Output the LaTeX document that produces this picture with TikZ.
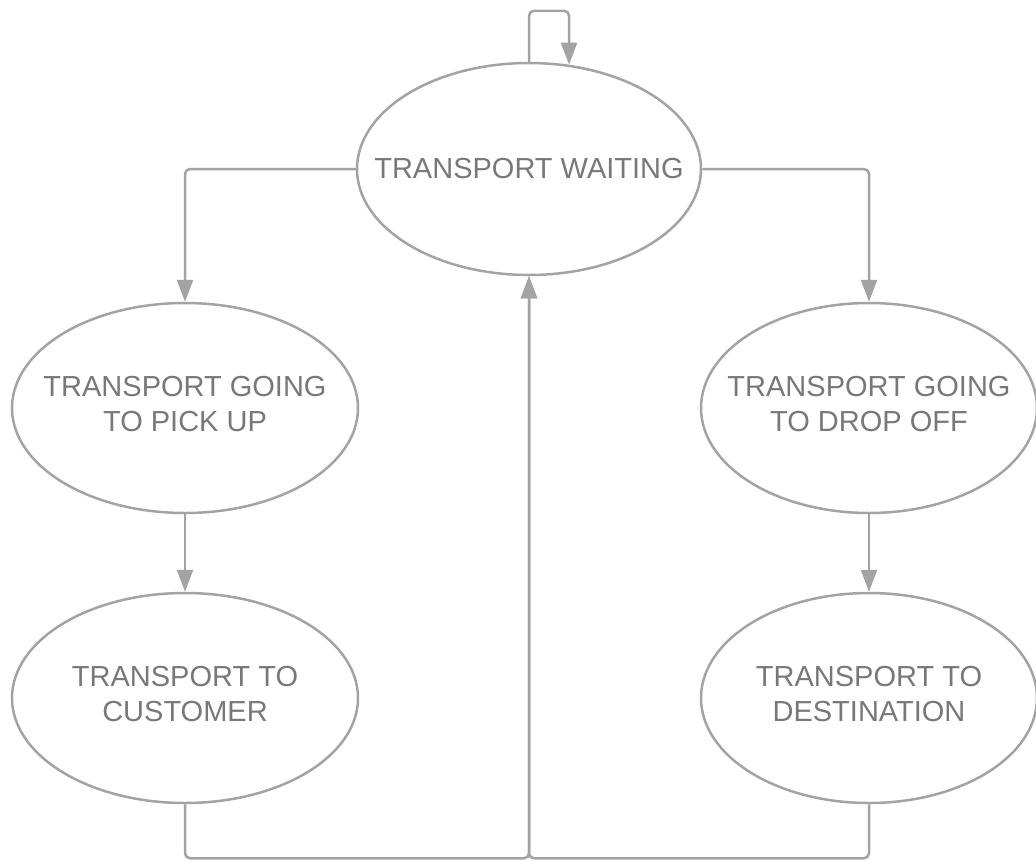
\documentclass[tikz,border=0pt]{standalone}
\usepackage{fontspec}
\setmainfont{Liberation Sans}
\usetikzlibrary{shapes.geometric,arrows.meta}
\definecolor{linegray}{HTML}{A3A3A3}
\definecolor{textgray}{HTML}{787878}
\tikzset{
  state/.style={ellipse, draw=linegray, line width=2.5pt, inner sep=0pt,
    minimum width=#1, minimum height=210pt},
  state/.default=346pt,
  lbl/.style={text=textgray, align=center, font=\fontsize{29}{35}\selectfont},
  arr/.style={draw=linegray, line width=2.5pt, rounded corners=5pt,
    -{Triangle[length=22pt,width=16pt]}},
}
\begin{document}
\begin{tikzpicture}[x=1pt,y=-1pt]
\useasboundingbox (0,0) rectangle (1036,860);
\node[state=344pt, minimum height=212pt,
  label={[lbl]center:TRANSPORT WAITING}] (W) at (529,169) {};
\node[state, label={[lbl,yshift=4pt]center:TRANSPORT GOING\\TO PICK UP}] (P) at (185,408) {};
\node[state=336pt, label={[lbl,yshift=4pt]center:TRANSPORT GOING\\TO DROP OFF}] (D) at (869,408) {};
\node[state, label={[lbl,yshift=4pt]center:TRANSPORT TO\\CUSTOMER}] (C) at (185,698) {};
\node[state=336pt, label={[lbl,yshift=4pt]center:TRANSPORT TO\\DESTINATION}] (T) at (869,698) {};

\draw[arr] (W.north) -- ++(0,-51) -| (W.69);
\draw[arr] (W.west) -| (P.north);
\draw[arr] (W.east) -| (D.north);
\draw[arr] (P.south) -- (C.north);
\draw[arr] (D.south) -- (T.north);
\draw[arr] (C.south) -- ++(0,54) -| (W.south);
\draw[arr] (T.south) -- ++(0,54) -| (W.south);
\end{tikzpicture}
\end{document}
